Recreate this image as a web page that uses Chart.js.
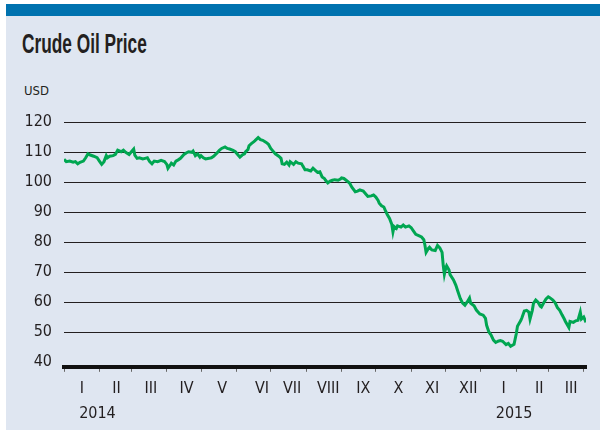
<!DOCTYPE html>
<html>
<head>
<meta charset="utf-8">
<script src="https://cdn.jsdelivr.net/npm/chart.js@4.4.1/dist/chart.umd.min.js"></script>
<style>
  html, body { margin: 0; padding: 0; background: #fff; }
  #wrap { position: relative; width: 606px; height: 430px; overflow: hidden; }
  #panel {
    position: absolute; left: 6px; top: 4px; width: 594px; height: 426px;
    background: #dfe6f1; border-top: 12px solid #0072af; box-sizing: border-box;
  }
  #title {
    position: absolute; left: 22px; top: 31px; white-space: nowrap;
    font: bold 27px "Liberation Sans", sans-serif;
    color: #231f20; transform: scaleX(0.64); transform-origin: left top; line-height: 1;
  }
  #unit {
    position: absolute; left: 24px; top: 84px;
    font: 13px "DejaVu Sans Condensed", "Liberation Sans", sans-serif;
    color: #231f20; line-height: 1;
  }
  #myChart { position: absolute; left: 0; top: 0; }
</style>
</head>
<body>
<div id="wrap">
  <div id="panel"></div>
  <div id="title">Crude Oil Price</div>
  <div id="unit">USD</div>
  <canvas id="myChart" width="606" height="430"></canvas>
</div>
<script>
// days since 1 Jan 2014, and price in USD per barrel
const days = [0, 2, 5, 8, 10, 12, 14, 17, 19, 21, 23, 26, 29, 31, 33, 35, 37, 38, 40, 43,
  45, 47, 50, 52, 54, 57, 59, 61, 62, 64, 66, 69, 71, 73, 75, 77, 79, 82, 85, 88,
  90, 91, 93, 94, 96, 98, 100, 102, 105, 107, 109, 112, 113, 115, 117, 119, 120, 122, 124, 127,
  129, 131, 134, 136, 138, 141, 143, 145, 148, 150, 152, 154, 156, 158, 159, 161, 162, 164, 166, 167,
  170, 172, 174, 177, 179, 181, 183, 185, 188, 190, 191, 193, 195, 197, 198, 201, 203, 205, 208, 209,
  211, 213, 216, 218, 220, 222, 224, 226, 228, 229, 231, 233, 235, 237, 240, 242, 243, 245, 247, 250,
  252, 255, 257, 259, 262, 264, 266, 269, 271, 273, 275, 276, 278, 280, 281, 283, 285, 287, 288, 289,
  291, 292, 295, 297, 299, 302, 304, 306, 308, 311, 313, 315, 316, 317, 319, 320, 322, 325, 327, 329,
  331, 332, 333, 334, 335, 337, 338, 341, 343, 345, 347, 349, 351, 353, 355, 356, 359, 361, 364, 367,
  369, 370, 372, 374, 376, 378, 380, 382, 384, 387, 389, 391, 394, 396, 397, 400, 401, 403, 405, 407,
  408, 410, 411, 413, 415, 417, 418, 420, 422, 424, 425, 428, 430, 432, 434, 436, 438, 439, 442, 443,
  446, 448, 450, 452, 453, 455, 457];

const prices = [107.6, 106.8, 107.0, 106.6, 106.8, 106.1, 106.6, 107.0, 108.1, 109.4, 109.0, 108.6, 108.1, 107.0, 105.9, 106.8, 108.8, 108.1, 108.6, 108.8,
  109.2, 110.6, 110.1, 110.6, 109.9, 109.2, 110.1, 111.0, 109.0, 107.9, 108.1, 107.7, 107.9, 108.1, 106.8, 106.1, 107.0, 106.8, 107.2, 106.8,
  105.9, 104.6, 105.7, 106.3, 105.7, 107.0, 107.4, 107.9, 109.2, 109.7, 110.1, 109.9, 110.3, 108.8, 109.4, 108.3, 108.8, 108.1, 107.7, 107.9,
  108.1, 108.6, 109.7, 110.6, 111.2, 111.7, 111.2, 111.0, 110.6, 110.1, 109.2, 108.3, 109.0, 109.4, 110.1, 110.8, 112.1, 112.8, 113.4, 113.7,
  114.8, 114.1, 113.9, 113.2, 112.6, 111.2, 110.3, 109.4, 108.6, 107.9, 106.1, 105.9, 106.6, 105.7, 106.8, 105.9, 106.8, 106.3, 106.1, 105.4,
  104.1, 104.1, 103.7, 104.6, 103.9, 103.2, 103.4, 101.7, 101.2, 100.6, 99.7, 100.3, 100.6, 100.8, 100.6, 101.0, 101.4, 101.2, 100.6, 99.7,
  98.3, 96.8, 97.0, 97.4, 97.0, 96.1, 95.2, 95.4, 95.7, 95.0, 93.9, 93.0, 92.1, 91.7, 90.8, 89.2, 87.9, 85.9, 83.4, 85.2,
  84.6, 85.4, 85.0, 85.7, 85.0, 85.4, 84.8, 83.7, 82.6, 82.1, 81.7, 80.8, 79.0, 76.6, 77.9, 78.3, 77.4, 77.2, 78.9, 78.1,
  76.6, 72.3, 69.3, 71.0, 72.1, 70.8, 69.2, 67.4, 65.7, 63.4, 61.2, 59.7, 59.0, 60.1, 61.4, 59.7, 58.8, 57.4, 56.1, 55.7,
  54.6, 52.3, 50.1, 49.0, 47.4, 46.6, 47.0, 47.2, 47.0, 45.9, 46.3, 45.3, 46.0, 49.6, 52.0, 54.0, 54.9, 57.1, 57.3, 56.7,
  54.4, 57.3, 59.6, 60.7, 60.0, 58.7, 58.4, 59.8, 61.1, 61.8, 61.6, 60.7, 59.8, 58.2, 57.3, 55.8, 54.4, 53.6, 51.6, 53.6,
  53.3, 53.8, 54.0, 56.7, 54.4, 55.1, 53.3];

// month boundaries (days since 1 Jan 2014) -> tick marks on the axis
const monthStarts = [0, 31, 59, 90, 120, 151, 181, 212, 243, 273, 304, 334, 365, 396, 424, 455];
const monthLabels = ['I', 'II', 'III', 'IV', 'V', 'VI', 'VII', 'VIII', 'IX', 'X', 'XI', 'XII', 'I', 'II', 'III'];
const monthLabelPos = [15.6, 45.9, 76.1, 107.2, 138.5, 173.3, 199.7, 231.4, 262.1, 292.8, 322.3, 353.9, 384.9, 416, 443.9];
const yearLabels = ['2014', '2015'];
const yearLabelPos = [29.3, 394];
const yTicks = [40, 50, 60, 70, 80, 90, 100, 110, 120];

const ink = '#231f20';
const font = '"DejaVu Sans Condensed", "Liberation Sans", sans-serif';

function drawGraph() {
    let ctx = document.getElementById('myChart');
    const xMax = 457;
    new Chart(ctx, {
        type: 'line',
        data: {
            datasets: [{
                label: 'Crude oil',
                data: days.map((d, i) => ({ x: d, y: prices[i] })),
                borderColor: '#00a651',
                borderWidth: 3,
                pointRadius: 0,
                tension: 0,
                fill: false,
                xAxisID: 'x',
                yAxisID: 'y'
            }]
        },
        options: {
            responsive: false,
            animation: false,
            devicePixelRatio: 1,
            layout: { padding: { left: 22, right: 20, top: 122, bottom: 0 } },
            plugins: { legend: { display: false }, tooltip: { enabled: false }, title: { display: false } },
            scales: {
                y: {
                    type: 'linear',
                    min: 38.5,
                    max: 120,
                    afterBuildTicks: s => { s.ticks = yTicks.map(v => ({ value: v })); },
                    afterFit: s => { s.width = 42; },
                    border: { display: false },
                    grid: {
                        drawTicks: false,
                        color: ink,
                        lineWidth: c => (c.tick && c.tick.value === 40 ? 0 : 1)
                    },
                    ticks: { padding: 12, color: ink, font: { family: font, size: 16 } }
                },
                x: {
                    type: 'linear',
                    min: 0,
                    max: xMax,
                    weight: 0,
                    afterBuildTicks: s => { s.ticks = monthStarts.map(v => ({ value: v })); },
                    afterFit: s => { s.height = 8; },
                    border: { display: true, color: '#111', width: 4 },
                    grid: { drawOnChartArea: false, drawTicks: true, tickLength: 5, tickWidth: 1, tickColor: '#666' },
                    ticks: { display: false }
                },
                xm: {
                    type: 'linear',
                    position: 'bottom',
                    min: 0,
                    max: xMax,
                    weight: 1,
                    afterBuildTicks: s => { s.ticks = monthLabelPos.map(v => ({ value: v })); },
                    afterFit: s => { s.height = 24; },
                    border: { display: false },
                    grid: { display: false, drawTicks: false },
                    ticks: {
                        autoSkip: false, maxRotation: 0, padding: 4, color: ink,
                        font: { family: font, size: 16 },
                        callback: (v, i) => monthLabels[i]
                    }
                },
                xy: {
                    type: 'linear',
                    position: 'bottom',
                    min: 0,
                    max: xMax,
                    weight: 2,
                    afterBuildTicks: s => { s.ticks = yearLabelPos.map(v => ({ value: v })); },
                    afterFit: s => { s.height = 31.2; },
                    border: { display: false },
                    grid: { display: false, drawTicks: false },
                    ticks: {
                        autoSkip: false, maxRotation: 0, padding: 5, color: ink,
                        font: { family: font, size: 16 },
                        callback: (v, i) => yearLabels[i]
                    }
                }
            }
        }
    });
}

drawGraph();
</script>
</body>
</html>
